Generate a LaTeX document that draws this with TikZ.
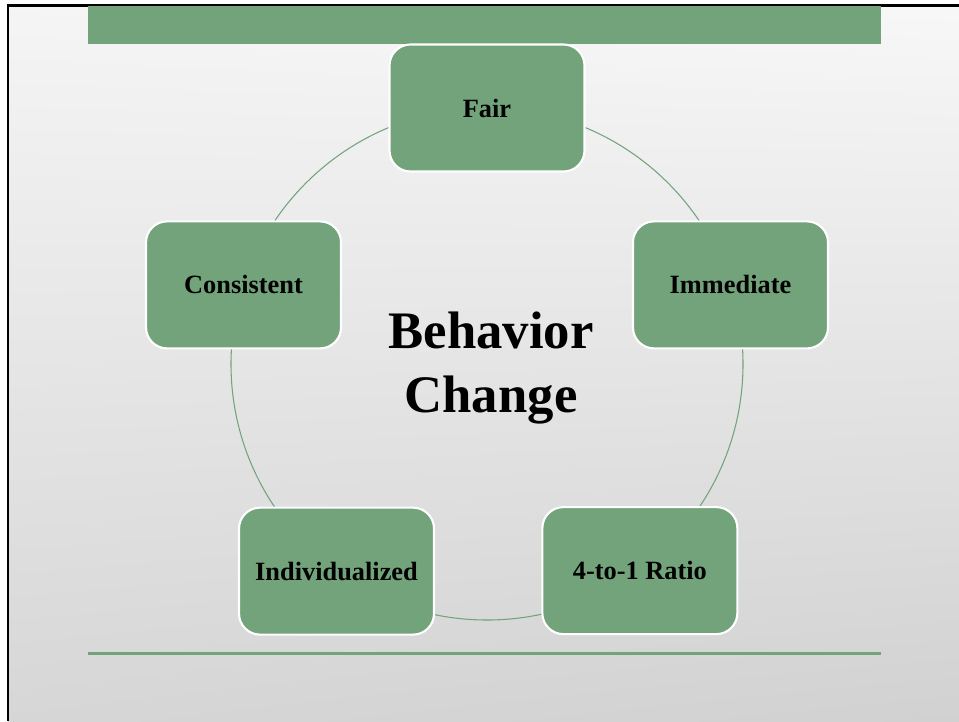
\documentclass[tikz,border=0pt]{standalone}
\usepackage{fontspec}
\setmainfont{Liberation Serif}
\usepackage{tikz}
\usetikzlibrary{positioning,shadings}
\definecolor{slidegreen}{RGB}{114,163,122}
\tikzset{stepbox/.style={rectangle,rounded corners=0.42cm,fill=slidegreen,draw=white,line width=1.2pt,minimum width=3.9cm,minimum height=2.54cm,inner sep=2pt,font=\fontsize{15}{18}\selectfont\bfseries},}

\begin{document}
\begin{tikzpicture}
	\useasboundingbox (0,0) rectangle (19.18,-14.42);
	% slide background
	\shade[upper left=white!96!black, upper right=white!97!black, lower left=white!84!black, lower right=white!82!black] (0.16,-0.1) rectangle (19.18,-14.42);
	\draw[line width=1.7pt] (0.16,-14.42) -- (0.16,-0.1) -- (19.18,-0.1);
	\fill[slidegreen] (1.76,-0.12) rectangle (17.62,-0.88);
	\draw[slidegreen,line width=1.7pt] (1.76,-13.06) -- (17.62,-13.06);

	\coordinate (ctr) at (9.74,-7.28);
	\draw[slidegreen,line width=0.6pt] (ctr) circle (5.12);

	\node[stepbox] (fair) at ([shift={(90:5.12)}]ctr) {Fair};
	\node[stepbox] (imm) at ([shift={(18:5.12)}]ctr) {Immediate};
	\node[stepbox] (ratio) at ([shift={(-53.5:5.14)}]ctr) {4-to-1 Ratio};
	\node[stepbox] (indiv) at ([shift={(-126:5.12)}]ctr) {Individualized};
	\node[stepbox] (cons) at ([shift={(162:5.12)}]ctr) {Consistent};

	\node[align=center,font=\fontsize{30}{36}\selectfont\bfseries] (behav) at ([shift={(0.08,-0.08)}]ctr) {Behavior\\Change};
\end{tikzpicture}
\end{document}
